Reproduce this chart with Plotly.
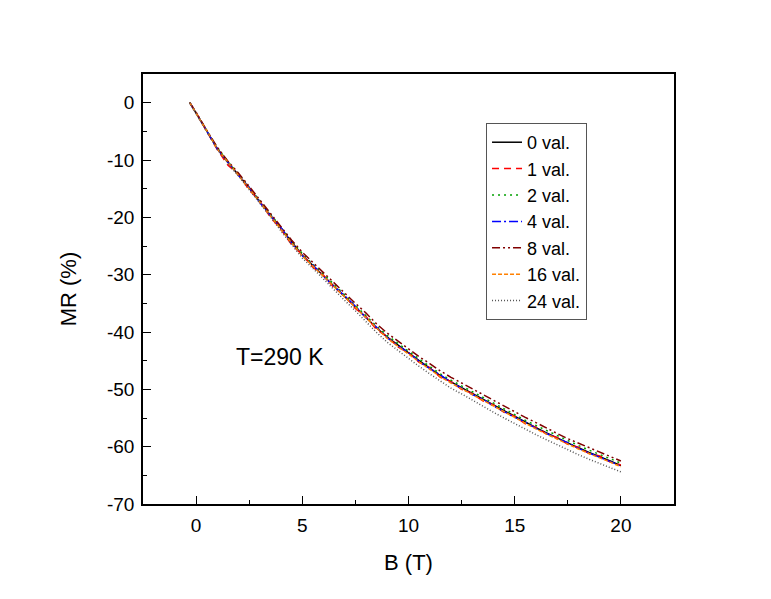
import plotly.graph_objects as go

# Magnetic field (T)
B = [-0.3, 0, 0.5, 1, 1.5, 2, 2.5, 3, 3.5, 4, 4.5, 5, 5.5, 6, 6.5, 7, 7.5, 8, 8.5, 9, 9.5,
     10, 10.5, 11, 11.5, 12, 12.5, 13, 13.5, 14, 14.5, 15, 15.5, 16, 16.5, 17, 17.5, 18, 18.5,
     19, 19.5, 20]

mr_0 = [0.0, -1.8, -4.9, -8.0, -10.4, -12.6, -14.9, -17.3, -19.6, -22.0, -24.4, -26.6, -28.4,
        -30.2, -32.0, -33.8, -35.6, -37.4, -39.3, -40.9, -42.3, -43.7, -45.0, -46.3, -47.6,
        -48.7, -49.7, -50.8, -51.8, -52.8, -53.8, -54.8, -55.8, -56.7, -57.6, -58.5, -59.4,
        -60.2, -61.0, -61.7, -62.5, -63.3]
mr_1 = [0.0, -1.7, -5.0, -8.2, -10.9, -12.5, -15.2, -17.2, -20.0, -22.1, -24.8, -26.5, -28.7,
        -30.1, -32.3, -33.7, -35.9, -37.3, -39.6, -40.8, -42.6, -43.6, -45.3, -46.2, -47.9,
        -48.6, -50.0, -50.7, -52.0, -52.7, -54.0, -54.7, -56.0, -56.6, -57.8, -58.4, -59.6,
        -60.1, -61.2, -61.6, -62.7, -63.2]
mr_2 = [0.0, -1.8, -4.8, -7.9, -10.3, -12.4, -14.8, -17.0, -19.4, -21.8, -24.2, -26.3, -28.2,
        -29.9, -31.7, -33.5, -35.3, -37.1, -39.0, -40.6, -42.0, -43.4, -44.7, -46.0, -47.3,
        -48.4, -49.4, -50.5, -51.5, -52.5, -53.5, -54.4, -55.4, -56.3, -57.2, -58.1, -59.0,
        -59.8, -60.6, -61.3, -62.1, -62.9]
mr_4 = [0.0, -1.8, -4.9, -8.1, -10.5, -12.7, -14.8, -17.4, -19.7, -21.8, -24.5, -26.7, -28.3,
        -30.3, -32.1, -33.7, -35.5, -37.5, -39.2, -41.0, -42.4, -43.6, -45.1, -46.4, -47.5,
        -48.8, -49.8, -50.9, -51.7, -52.9, -53.9, -54.9, -55.7, -56.8, -57.7, -58.6, -59.3,
        -60.3, -61.1, -61.8, -62.6, -63.4]
mr_8 = [0.0, -1.7, -4.8, -7.8, -10.2, -12.3, -14.6, -17.0, -19.2, -21.6, -24.0, -26.1, -27.9,
        -29.7, -31.4, -33.2, -35.0, -36.7, -38.6, -40.2, -41.6, -43.0, -44.3, -45.5, -46.8,
        -47.9, -48.9, -50.0, -51.0, -52.0, -53.0, -53.9, -54.9, -55.8, -56.8, -57.7, -58.6,
        -59.4, -60.2, -60.9, -61.7, -62.5]
mr_16 = [0.0, -1.8, -4.9, -8.1, -10.5, -12.7, -15.0, -17.4, -19.7, -22.1, -24.5, -26.7, -28.5,
         -30.3, -32.1, -33.9, -35.7, -37.6, -39.4, -41.1, -42.5, -43.9, -45.2, -46.5, -47.8,
         -48.9, -49.9, -51.0, -52.0, -53.0, -54.0, -55.0, -56.0, -56.9, -57.8, -58.7, -59.6,
         -60.4, -61.2, -61.9, -62.7, -63.5]
mr_24 = [0.0, -1.8, -5.0, -8.1, -10.6, -12.8, -15.1, -17.6, -19.9, -22.4, -24.8, -27.1, -28.9,
         -30.8, -32.6, -34.5, -36.3, -38.2, -40.1, -41.8, -43.2, -44.7, -46.0, -47.3, -48.6,
         -49.8, -50.8, -51.9, -52.9, -54.0, -55.0, -56.0, -57.0, -57.9, -58.8, -59.7, -60.6,
         -61.4, -62.2, -62.9, -63.7, -64.4]

series_names = ["0 val.", "1 val.", "2 val.", "4 val.", "8 val.", "16 val.", "24 val."]
series_values = [mr_0, mr_1, mr_2, mr_4, mr_8, mr_16, mr_24]

x_tick_vals = [0, 5, 10, 15, 20]
x_tick_text = ["0", "5", "10", "15", "20"]
y_tick_vals = [0, -10, -20, -30, -40, -50, -60, -70]
y_tick_text = ["0", "-10", "-20", "-30", "-40", "-50", "-60", "-70"]

colors = ["#000000", "#FF0000", "#00A000", "#0000FF", "#800000", "#FF8000", "#555555"]
dashes = ["solid", "7px,5px", "2px,4px", "9px,3px,2px,3px", "8px,3px,2px,3px,2px,3px",
          "4px,2px", "1px,2px"]

FONT = "Arial, 'Liberation Sans', sans-serif"

fig = go.Figure()
for name, vals, c, d in zip(series_names, series_values, colors, dashes):
    fig.add_trace(go.Scatter(x=B, y=vals, mode="lines", name=name,
                             line=dict(color=c, width=1.5, dash=d)))

axis_common = dict(showline=True, linecolor="black", linewidth=1.5, mirror=True,
                   ticks="inside", ticklen=8, tickwidth=1.2, tickcolor="black",
                   showgrid=False, zeroline=False,
                   tickfont=dict(family=FONT, size=19, color="black"))

fig.update_xaxes(range=[-2.5, 22.5], tickvals=x_tick_vals, ticktext=x_tick_text,
                 ticklabelstandoff=3,
                 minor=dict(ticks="inside", ticklen=4, tickwidth=1.2, tickcolor="black", dtick=2.5, tick0=0),
                 title=dict(text="B (T)", font=dict(family=FONT, size=22, color="black"), standoff=20),
                 **axis_common)
fig.update_yaxes(range=[-70, 5], tickvals=y_tick_vals, ticktext=y_tick_text,
                 ticklabelstandoff=3,
                 minor=dict(ticks="inside", ticklen=4, tickwidth=1.2, tickcolor="black", dtick=5, tick0=0),
                 title=dict(text="MR (%)", font=dict(family=FONT, size=22, color="black"), standoff=24),
                 **axis_common)

fig.add_annotation(x=6.1, y=-44.4, xref="x", yref="y", text="T=290 K", showarrow=False,
                   xanchor="right", yanchor="middle",
                   font=dict(family=FONT, size=23, color="black"))

fig.update_layout(
    width=771, height=599,
    margin=dict(l=135, r=105, t=66, b=103),
    paper_bgcolor="white", plot_bgcolor="white",
    showlegend=True,
    legend=dict(x=0.646, y=0.886, xanchor="left", yanchor="top",
                bgcolor="white", bordercolor="#555555", borderwidth=1,
                font=dict(family=FONT, size=18, color="black"),
                tracegroupgap=0, itemwidth=30),
)

fig.write_html("out.html")
